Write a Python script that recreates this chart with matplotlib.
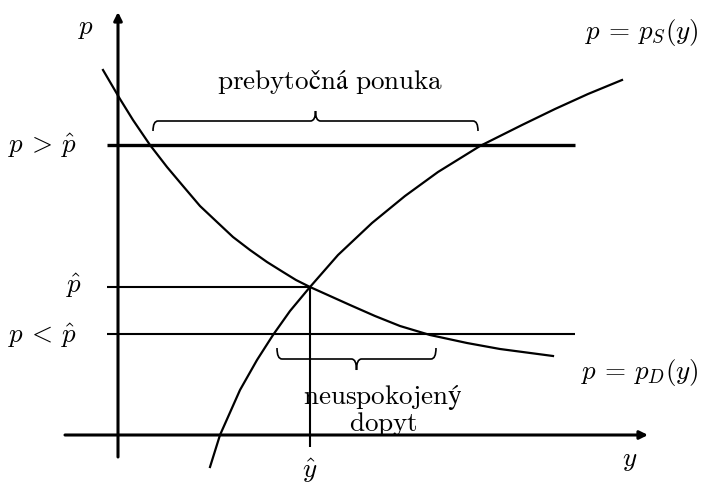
import matplotlib
matplotlib.use("Agg")
import matplotlib.pyplot as plt
from matplotlib.path import Path
from matplotlib.patches import PathPatch

plt.rcParams["mathtext.fontset"] = "cm"

# demand curve p = p_D(y) (q, p)
demand_q = [-15, 2, 15, 32, 49, 65, 82, 99, 115, 132, 149, 165, 178, 192,
            232, 257, 282, 312, 349, 382, 435]
demand_p = [365, 336, 315, 290, 268, 249, 229, 213, 198, 185, 173, 163, 155, 148,
            130, 119, 109, 100, 92, 86, 79]

# supply curve p = p_S(y)
supply_q = [92, 102, 122, 139, 155, 172, 192, 220, 254, 287, 320, 362,
            404, 437, 470, 504]
supply_p = [-32, 0, 45, 75, 100, 124, 148, 180, 212, 239, 263, 289,
            310, 326, 341, 355]

# price levels and equilibrium quantity
p_high = 290
p_hat = 148
p_low = 101
y_hat = 192

# extents of the excess supply / unsatisfied demand intervals
excess_supply = (35, 360)
unmet_demand = (159, 318)

fig = plt.figure(figsize=(7.02, 4.87), dpi=100)
ax = fig.add_axes([0, 0, 1, 1])
ax.set_xlim(-118, 584)
ax.set_ylim(-52, 435)
ax.axis("off")

k = "black"

# axes with arrows
ax.annotate("", xy=(530, 0), xytext=(-53, 0),
            arrowprops=dict(arrowstyle="-|>", lw=2.2, color=k, mutation_scale=12,
                            shrinkA=0, shrinkB=0))
ax.annotate("", xy=(0, 423), xytext=(0, -22),
            arrowprops=dict(arrowstyle="-|>", lw=2.2, color=k, mutation_scale=12,
                            shrinkA=0, shrinkB=0))

# price lines
ax.plot([-11, 457], [p_high, p_high], color=k, lw=2.4, solid_capstyle="butt")
ax.plot([-11, y_hat], [p_hat, p_hat], color=k, lw=1.5, solid_capstyle="butt")
ax.plot([-11, 457], [p_low, p_low], color=k, lw=1.5, solid_capstyle="butt")
ax.plot([y_hat, y_hat], [p_hat, -12], color=k, lw=1.5, solid_capstyle="butt")

# curves
ax.plot(demand_q, demand_p, color=k, lw=1.6, solid_joinstyle="round")
ax.plot(supply_q, supply_p, color=k, lw=1.6, solid_joinstyle="round")


def brace(x0, x1, y, h, up=True):
    """Horizontal curly brace from x0 to x1, baseline y, height h."""
    s = 1 if up else -1
    xm = (x0 + x1) / 2
    r = 5
    verts = [
        (x0, y - s * h), (x0, y), (x0 + r, y),
        (xm - r, y), (xm, y), (xm, y + s * h),
        (xm, y), (xm + r, y),
        (x1 - r, y), (x1, y), (x1, y - s * h),
    ]
    codes = [Path.MOVETO, Path.CURVE3, Path.CURVE3,
             Path.LINETO, Path.CURVE3, Path.CURVE3,
             Path.CURVE3, Path.CURVE3,
             Path.LINETO, Path.CURVE3, Path.CURVE3]
    ax.add_patch(PathPatch(Path(verts, codes), fill=False, lw=1.2, color=k))


brace(excess_supply[0], excess_supply[1], 314, 10, up=True)
brace(unmet_demand[0], unmet_demand[1], 76, 11, up=False)

fs = 19.5
ax.text(-32, 407, r"$p$", fontsize=fs, ha="center", va="center")
ax.text(-42, 289, r"$p\,>\,\hat{p}$", fontsize=fs, ha="right", va="center")
ax.text(-36, 149, r"$\hat{p}$", fontsize=fs, ha="right", va="center")
ax.text(-42, 99, r"$p\,<\,\hat{p}$", fontsize=fs, ha="right", va="center")
ax.text(y_hat, -36, r"$\hat{y}$", fontsize=fs, ha="center", va="center")
ax.text(512, -25, r"$y$", fontsize=fs, ha="center", va="center")
ax.text(581, 403, r"$p\/=\/p_S(y)$", fontsize=fs, ha="right", va="center")
ax.text(581, 62, r"$p\/=\/p_D(y)$", fontsize=fs, ha="right", va="center")
ax.text(212, 353, r"$\mathrm{prebytočná\ ponuka}$", fontsize=fs,
        ha="center", va="center")
ax.text(265, 38, r"$\mathrm{neuspokojený}$", fontsize=fs, ha="center", va="center")
ax.text(265, 11, r"$\mathrm{dopyt}$", fontsize=fs, ha="center", va="center")

fig.savefig("out.png", dpi=100)
